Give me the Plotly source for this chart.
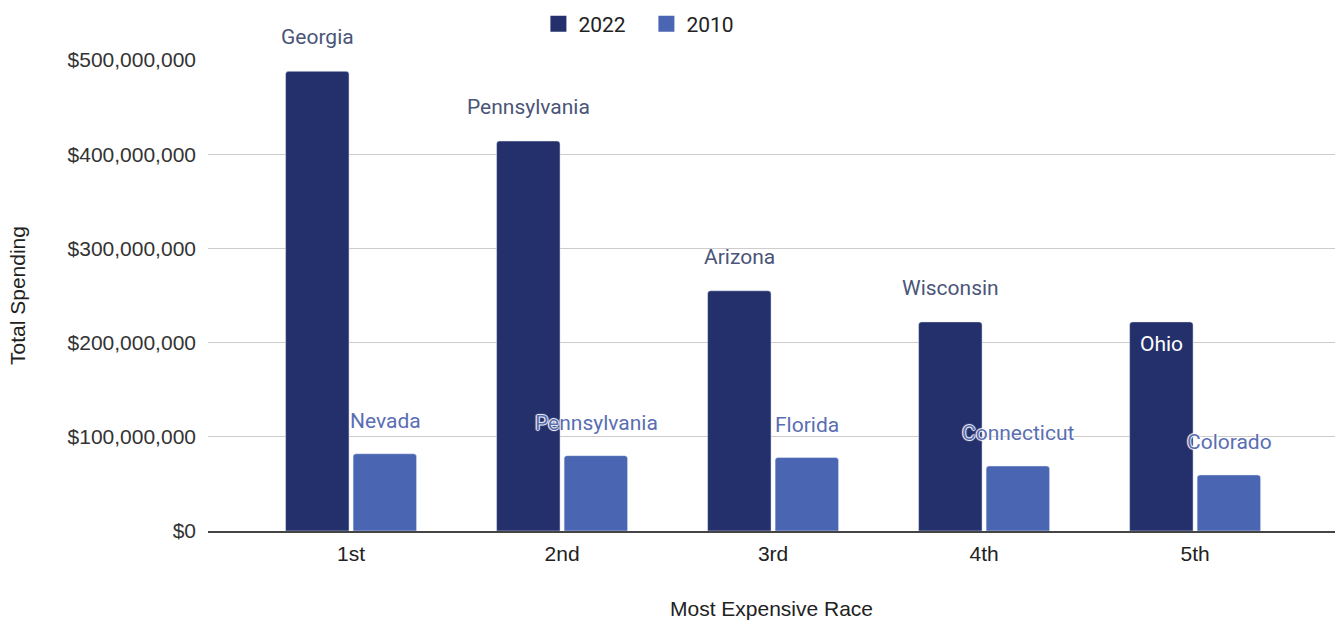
import plotly.graph_objects as go

categories = ["1st", "2nd", "3rd", "4th", "5th"]
spend_2022 = [488e6, 414e6, 255e6, 222e6, 222e6]
spend_2010 = [82e6, 80e6, 78e6, 69e6, 59.5e6]
states_2022 = ["Georgia", "Pennsylvania", "Arizona", "Wisconsin", "Ohio"]
states_2010 = ["Nevada", "Pennsylvania", "Florida", "Connecticut", "Colorado"]
y_ticks = [0, 100e6, 200e6, 300e6, 400e6, 500e6]
y_ticktext = ["$0", "$100,000,000", "$200,000,000", "$300,000,000",
              "$400,000,000", "$500,000,000"]
series_names = ["2022", "2010"]

DARK = "#24306b"
LIGHT = "#4a65b2"
AXFONT = "Liberation Sans, Arial"

fig = go.Figure()
fig.add_trace(go.Bar(name=series_names[0], x=categories, y=spend_2022, marker_color=DARK,
                     marker_cornerradius=3, showlegend=False))
fig.add_trace(go.Bar(name=series_names[1], x=categories, y=spend_2010, marker_color=LIGHT,
                     marker_cornerradius=3, showlegend=False))
# legend entries with larger square swatches
for name, col in zip(series_names, [DARK, LIGHT]):
    fig.add_trace(go.Scatter(name=name, x=[None], y=[None], mode="markers",
                             marker=dict(symbol="square", size=16, color=col)))

halo = "1px 0 1px #fff, -1px 0 1px #fff, 0 1px 1px #fff, 0 -1px 1px #fff"
annotations = []
for i, (v, s) in enumerate(zip(spend_2022, states_2022)):
    inside = s == "Ohio"
    annotations.append(dict(
        x=i - 0.161, y=v, xref="x", yref="y", text=s, showarrow=False,
        yshift=-22 if inside else 34,
        font=dict(family="Roboto", size=21, color="#ffffff" if inside else "#4a5578"),
    ))
for i, (v, s) in enumerate(zip(spend_2010, states_2010)):
    annotations.append(dict(
        x=i + 0.161, y=v, xref="x", yref="y", text=s, showarrow=False, yshift=33,
        font=dict(family="Roboto", size=21, color="#5a6eb2", shadow=halo),
    ))

fig.update_layout(
    width=1344, height=620,
    margin=dict(l=208, r=9, t=60, b=89, autoexpand=False),
    paper_bgcolor="white", plot_bgcolor="white",
    barmode="group", bargap=0.36, bargroupgap=0.06,
    annotations=annotations,
    legend=dict(orientation="h", x=0.389, xanchor="center", y=1.076, yanchor="middle",
                font=dict(family="Roboto", size=21, color="#222222"),
                itemwidth=30, entrywidth=63, traceorder="normal"),
    xaxis=dict(
        range=[-0.678, 4.663], showline=True, linecolor="#444444", linewidth=1.5,
        showgrid=False, ticks="", ticklabelstandoff=3,
        tickfont=dict(family=AXFONT, size=21, color="#222222"),
        title=dict(text="Most Expensive Race", standoff=39,
                   font=dict(family=AXFONT, size=21, color="#222222")),
    ),
    yaxis=dict(
        range=[0, 500e6], tickmode="array", tickvals=y_ticks, ticktext=y_ticktext,
        showgrid=True, gridcolor="#cccccc", gridwidth=1, zeroline=False,
        ticks="", ticklabelstandoff=11,
        tickfont=dict(family=AXFONT, size=21, color="#333333"),
        title=dict(text="Total Spending", standoff=36,
                   font=dict(family=AXFONT, size=21, color="#222222")),
    ),
)
fig.write_html("out.html", config={"displayModeBar": False},
               post_script="document.body.style.margin='0';")
